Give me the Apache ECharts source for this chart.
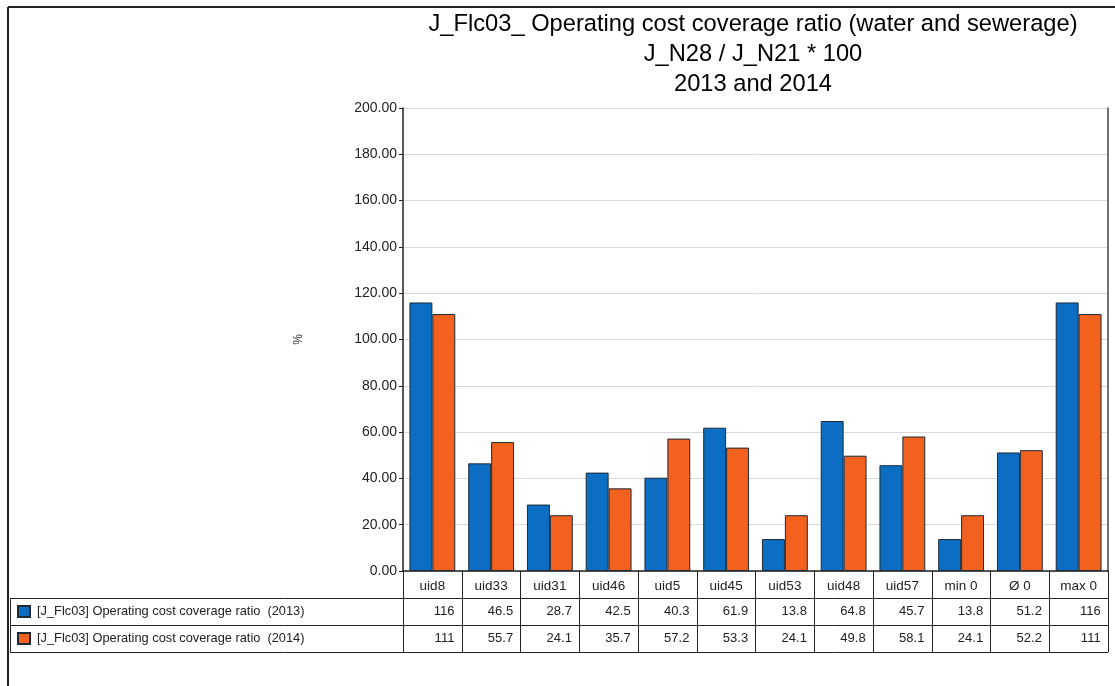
<!DOCTYPE html>
<html>
<head>
<meta charset="utf-8">
<script src="https://cdn.jsdelivr.net/npm/echarts@6/dist/echarts.min.js"></script>
<style>
  html, body { margin: 0; padding: 0; background: #fff; }
  #chart { width: 1115px; height: 686px; }
</style>
</head>
<body>
<div id="chart"></div>
<script>
// ---- data ----
const categories = ['uid8', 'uid33', 'uid31', 'uid46', 'uid5', 'uid45', 'uid53', 'uid48', 'uid57', 'min 0', 'Ø 0', 'max 0'];
const ratio2013 = [116, 46.5, 28.7, 42.5, 40.3, 61.9, 13.8, 64.8, 45.7, 13.8, 51.2, 116];
const ratio2014 = [111, 55.7, 24.1, 35.7, 57.2, 53.3, 24.1, 49.8, 58.1, 24.1, 52.2, 111];
const seriesNames = [
  '[J_Flc03] Operating cost coverage ratio  (2013)',
  '[J_Flc03] Operating cost coverage ratio  (2014)'
];
const titleLines = [
  'J_Flc03_ Operating cost coverage ratio (water and sewerage)',
  'J_N28 / J_N21 * 100',
  '2013 and 2014'
];
const yMin = 0, yMax = 200, yStep = 20;
const yName = '%';

// ---- layout ----
const W = 1115, H = 686;
const GRID = { left: 403, right: 7, top: 108, bottom: 115 };
const ROW = 27;                       // height of one table row
const axisY = H - GRID.bottom;        // y of the category axis
const plotRight = W - GRID.right;
const tableLeft = 10;
const FONT = '"Liberation Sans", Arial, sans-serif';
const COLORS = ['#0b6ec3', '#f2611d'];
const BORDER = '#1d2a38';

const chart = echarts.init(document.getElementById('chart'), null, { renderer: 'canvas' });

// value rows of the data table, one hidden-line axis per series
function valueRowAxis(values, row) {
  return {
    type: 'category',
    data: categories,
    gridIndex: 0,
    position: 'bottom',
    offset: ROW * row,
    axisLine: { show: false },
    axisTick: { show: false },
    splitLine: { show: false },
    axisLabel: {
      interval: 0,
      margin: 7,
      formatter: (v, i) => '{v|' + values[i] + '}',
      rich: {
        v: { width: 44, align: 'right', fontSize: 13, fontFamily: FONT, color: '#222' }
      }
    }
  };
}

const option = {
  backgroundColor: '#fff',
  animation: false,
  title: {
    text: titleLines.join('\n'),
    left: 748,
    top: 4,
    textAlign: 'center',
    textStyle: {
      fontFamily: FONT, fontSize: 23.7, fontWeight: 'normal',
      color: '#000', lineHeight: 30
    }
  },
  legend: {
    data: seriesNames,
    orient: 'vertical',
    left: 12,
    top: axisY + ROW + 2,
    itemWidth: 12,
    itemHeight: 11,
    itemGap: 14,
    icon: 'rect',
    textStyle: { fontFamily: FONT, fontSize: 12.8, color: '#222', padding: [0, 0, 0, 2] },
    selectedMode: false
  },
  grid: {
    left: GRID.left, right: GRID.right, top: GRID.top, bottom: GRID.bottom,
    containLabel: false
  },
  xAxis: [
    {
      type: 'category',
      data: categories,
      position: 'bottom',
      axisLine: { lineStyle: { color: '#222', width: 1.5 } },
      axisTick: {
        show: true, alignWithLabel: false, interval: 0,
        length: ROW * 3, lineStyle: { color: '#222', width: 1 }
      },
      axisLabel: {
        interval: 0, margin: 8,
        fontFamily: FONT, fontSize: 13.5, color: '#222'
      },
      splitLine: { show: false }
    },
    valueRowAxis(ratio2013, 1),
    valueRowAxis(ratio2014, 2)
  ],
  yAxis: [
    {
      type: 'value',
      min: yMin, max: yMax, interval: yStep,
      name: yName,
      nameLocation: 'middle',
      nameGap: 98,
      nameTextStyle: { fontFamily: FONT, fontSize: 12, color: '#333' },
      axisLine: { show: true, lineStyle: { color: '#222', width: 1.5 } },
      axisTick: { show: true, length: 4, lineStyle: { color: '#222' } },
      axisLabel: {
        margin: 6,
        fontFamily: FONT, fontSize: 14, color: '#222',
        formatter: v => v.toFixed(2)
      },
      splitLine: { show: true, lineStyle: { color: '#d9d9d9', width: 1 } }
    },
    {
      type: 'value',
      min: yMin, max: yMax, interval: yStep,
      position: 'right',
      axisLine: { show: true, lineStyle: { color: '#444', width: 1.5 } },
      axisTick: { show: false },
      axisLabel: { show: false },
      splitLine: { show: false }
    }
  ],
  series: [
    {
      name: seriesNames[0],
      type: 'bar',
      data: ratio2013,
      barGap: '0%',
      barCategoryGap: '22%',
      itemStyle: { color: COLORS[0], borderColor: BORDER, borderWidth: 1 }
    },
    {
      name: seriesNames[1],
      type: 'bar',
      data: ratio2014,
      itemStyle: { color: COLORS[1], borderColor: BORDER, borderWidth: 1 }
    }
  ],
  graphic: [
    // outer frame (top and left edges)
    { type: 'line', shape: { x1: 8, y1: 7, x2: W, y2: 7 }, style: { stroke: '#222', lineWidth: 2 } },
    { type: 'line', shape: { x1: 8, y1: 7, x2: 8, y2: H }, style: { stroke: '#222', lineWidth: 2 } },
    // data table rules
    { type: 'line', shape: { x1: tableLeft, y1: axisY + ROW + 0.5, x2: plotRight, y2: axisY + ROW + 0.5 }, style: { stroke: '#222', lineWidth: 1 } },
    { type: 'line', shape: { x1: tableLeft, y1: axisY + ROW * 2 + 0.5, x2: plotRight, y2: axisY + ROW * 2 + 0.5 }, style: { stroke: '#222', lineWidth: 1 } },
    { type: 'line', shape: { x1: tableLeft, y1: axisY + ROW * 3 + 0.5, x2: plotRight, y2: axisY + ROW * 3 + 0.5 }, style: { stroke: '#222', lineWidth: 1 } },
    { type: 'line', shape: { x1: tableLeft + 0.5, y1: axisY + ROW, x2: tableLeft + 0.5, y2: axisY + ROW * 3 + 1 }, style: { stroke: '#222', lineWidth: 1 } }
  ]
};

chart.setOption(option);
</script>
</body>
</html>
